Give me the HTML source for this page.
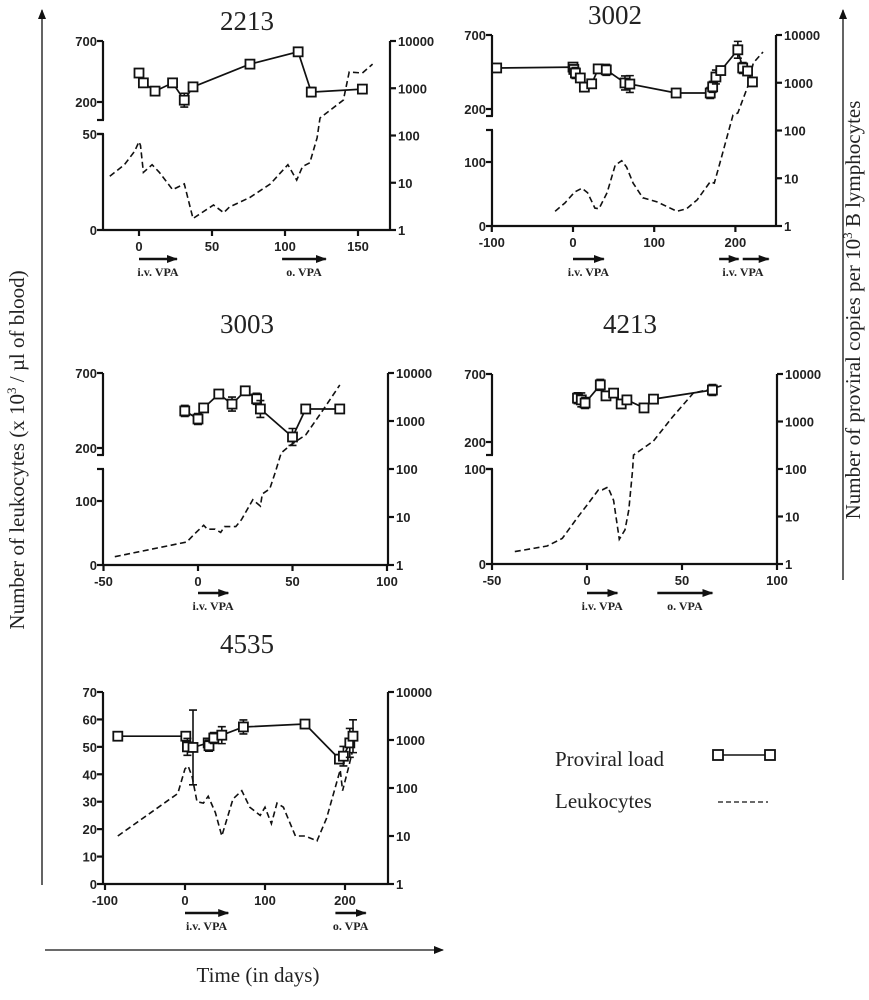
<!DOCTYPE html>
<html><head><meta charset="utf-8"><style>
html,body{margin:0;padding:0;background:#fff;}
svg{display:block;}
.tk{font-family:"Liberation Sans",sans-serif;font-weight:bold;font-size:13px;fill:#222;}
.ttl{font-family:"Liberation Serif",serif;font-size:27px;fill:#222;}
.drug{font-family:"Liberation Serif",serif;font-weight:bold;font-size:12px;fill:#222;}
.big{font-family:"Liberation Serif",serif;font-size:21px;fill:#222;}
</style></head><body>
<svg id="chart" width="869" height="1000" viewBox="0 0 869 1000">
<defs>
<marker id="ah" markerUnits="userSpaceOnUse" markerWidth="10" markerHeight="10" refX="9" refY="5" orient="auto"><path d="M0,1 L10,5 L0,9 z" fill="#111"/></marker>
<marker id="ah2" markerUnits="userSpaceOnUse" markerWidth="11" markerHeight="10" refX="10" refY="5" orient="auto"><path d="M0,1 L11,5 L0,9 z" fill="#111"/></marker>
</defs>
<g id="panels"></g>
<g>
<line x1="42" y1="885" x2="42" y2="10" stroke="#111" stroke-width="1.3" marker-end="url(#ah)"/>
<text class="big" transform="translate(24,450) rotate(-90)" text-anchor="middle">Number of leukocytes (x 10<tspan font-size="13" dy="-8">3</tspan><tspan dy="8"> /  µl of blood)</tspan></text>
</g>
<g>
<line x1="45" y1="950" x2="443" y2="950" stroke="#111" stroke-width="1.3" marker-end="url(#ah)"/>
<text class="big" x="258" y="982" text-anchor="middle">Time (in days)</text>
</g>
<g>
<line x1="843" y1="580" x2="843" y2="10" stroke="#111" stroke-width="1.3" marker-end="url(#ah)"/>
<text class="big" transform="translate(860,310) rotate(-90)" text-anchor="middle">Number of proviral copies per 10<tspan font-size="13" dy="-8">3</tspan><tspan dy="8"> B lymphocytes</tspan></text>
</g>
<g>
<text class="big" x="555" y="766">Proviral load</text>
<line x1="718" y1="755" x2="770" y2="755" stroke="#111" stroke-width="1.5"/>
<rect x="713" y="750" width="10" height="10" fill="#fff" stroke="#111" stroke-width="1.8"/>
<rect x="765" y="750" width="10" height="10" fill="#fff" stroke="#111" stroke-width="1.8"/>
<text class="big" x="555" y="808">Leukocytes</text>
<line x1="718" y1="802" x2="768" y2="802" stroke="#111" stroke-width="1.2" stroke-dasharray="5,3"/>
</g>
</svg>
<script>
// ---- data ----
const p2213LoadDays=[0,3,11,23,31,37,76,109,118,153];
const p2213Load=[2100,1300,870,1300,560,1070,3240,5900,830,960];
const p2213LoadErr=[1.1,1,1,1,1.4,1.2,1,1,1.25,1.1];
const p2213LeukoDays=[-20,-10,-3,0,1,3,9,14,23,31,37,51,58,62,76,90,102,108,112,117,122,124,140,144,153,160];
const p2213Leuko=[28,34,41,46,44,30,34,30,21,24,6,13,9,12,17,24,34,26,33,35,48,69,216,446,438,511];

const p3002LoadDays=[-94,0,1,3,9,14,23,31,41,64,70,127,169,172,176,182,203,209,215,221];
const p3002Load=[2040,2130,1900,1600,1260,810,950,1950,1860,990,940,610,610,820,1320,1800,4900,2040,1760,1040];
const p3002LoadErr=[1,1.1,1.2,1.3,1.2,1.1,1.2,1.1,1.3,1.4,1.5,1.1,1.3,1.3,1.4,1.2,1.5,1.3,1.1,1.1];
const p3002LeukoDays=[-22,-10,2,11,18,27,32,42,52,60,66,74,86,103,128,140,153,169,174,183,192,197,203,215,222,234];
const p3002Leuko=[23,36,53,59,52,28,27,52,95,102,92,67,44,38,23,27,41,69,67,108,150,159,173,349,511,585];

const p3003LoadDays=[-7,0,3,11,18,25,31,33,50,57,75];
const p3003Load=[1620,1100,1870,3650,2250,4250,2900,1780,465,1780,1780];
const p3003LoadErr=[1.3,1.3,1,1.1,1.4,1.2,1.3,1.5,1.5,1,1];
const p3003LeukoDays=[-44,-6,-1,3,5,9,12,14,20,23,29,33,34,38,41,44,49,57,65,75];
const p3003Leuko=[13,36,51,62,56,56,51,60,60,71,102,92,111,119,146,167,220,287,433,620];

const p4213LoadDays=[-5,-3,-1,7,10,14,18,21,30,35,66];
const p4213Load=[3100,2850,2450,5900,3460,3960,2340,2850,1930,2960,4600];
const p4213LoadErr=[1.3,1.4,1.3,1.3,1.2,1.1,1.2,1.2,1.2,1,1.3];
const p4213LeukoDays=[-38,-21,-13,-5,0,6,8,11,14,17,20,22,24,24.5,35,45,56,63,72];
const p4213Leuko=[13,19,27,49,62,78,78,81,67,26,36,57,99,104,207,384,560,582,618];

const p4535LoadDays=[-84,1,3,10,29,30,36,46,73,150,193,198,206,210];
const p4535Load=[1200,1200,720,700,870,760,1100,1260,1870,2150,400,460,870,1200];
const p4535LoadErr=[1,1.1,1.5,6,1.2,1.3,1.3,1.5,1.4,1.2,1.1,1.6,2,2.2];
const p4535LeukoDays=[-84,-9,0,4,9,15,23,29,38,46,60,71,81,94,100,108,115,123,138,150,165,177,194,197,204,209];
const p4535Leuko=[17.5,33,42,43,39,30,29.5,32,26,17.5,31,34,28,25,28,22,29.5,28,17.5,17.5,15.7,24,41.6,34,42,48];

// ---- geometry ----
const panels=[
 {id:'2213',loadD:p2213LoadDays,load:p2213Load,err:p2213LoadErr,leD:p2213LeukoDays,le:p2213Leuko,
  xl:103,xr:390,x0:139,k:1.46,xt:[0,50,100,150],yTop:41,yB:230,split:true,y200:102,yUpEnd:120,yLowTop:134,lowMax:50,lowTicks:[0,50],
  title:[247,30],drugs:[[0,26,'i.v. VPA'],[98,128,'o. VPA']],dy:259},
 {id:'3002',loadD:p3002LoadDays,load:p3002Load,err:p3002LoadErr,leD:p3002LeukoDays,le:p3002Leuko,
  xl:492,xr:776,x0:573,k:0.812,xt:[-100,0,100,200],yTop:35,yB:226,split:true,y200:109,yUpEnd:116,yLowTop:130,lowMax:150,lowTicks:[0,100],
  title:[615,24],drugs:[[0,38,'i.v. VPA'],[180,204,''],[209,241,'']],dlab:[[743,'i.v. VPA']],dy:259},
 {id:'3003',loadD:p3003LoadDays,load:p3003Load,err:p3003LoadErr,leD:p3003LeukoDays,le:p3003Leuko,
  xl:103,xr:388,x0:198,k:1.89,xt:[-50,0,50,100],yTop:373,yB:565,split:true,y200:448,yUpEnd:455,yLowTop:469,lowMax:150,lowTicks:[0,100],
  title:[247,333],drugs:[[0,16,'i.v. VPA']],dy:593},
 {id:'4213',loadD:p4213LoadDays,load:p4213Load,err:p4213LoadErr,leD:p4213LeukoDays,le:p4213Leuko,
  xl:492,xr:777,x0:587,k:1.9,xt:[-50,0,50,100],yTop:374,yB:564,split:true,y200:442,yUpEnd:455,yLowTop:469,lowMax:100,lowTicks:[0,100],
  title:[630,333],drugs:[[0,16,'i.v. VPA'],[37,66,'o. VPA']],dy:593},
 {id:'4535',loadD:p4535LoadDays,load:p4535Load,err:p4535LoadErr,leD:p4535LeukoDays,le:p4535Leuko,
  xl:103,xr:388,x0:185,k:0.8,xt:[-100,0,100,200],yTop:692,yB:884,split:false,linMax:70,lowTicks:[0,10,20,30,40,50,60,70],
  title:[247,653],drugs:[[0,54,'i.v. VPA'],[188,226,'o. VPA']],dy:913}
];
const NS='http://www.w3.org/2000/svg';
function mk(tag,attrs,parent){const e=document.createElementNS(NS,tag);for(const a in attrs)e.setAttribute(a,attrs[a]);parent.appendChild(e);return e;}
const root=document.getElementById('panels');
panels.forEach(p=>{
 const g=mk('g',{},root);
 
 
 const X=d=>p.x0+d*p.k;
 const dec=(p.yB-p.yTop)/4;
 const YL=v=>p.yB-Math.log10(v)*dec;
 let YK;
 if(p.split){const lowK=(p.yB-p.yLowTop)/p.lowMax, upK=(p.y200-p.yTop)/500;
  YK=v=>v<=p.lowMax? p.yB-v*lowK : p.y200-(v-200)*upK;}
 else{const kk=(p.yB-p.yTop)/p.linMax; YK=v=>p.yB-v*kk;}
 const t=mk('text',{class:'ttl',x:p.title[0],y:p.title[1],'text-anchor':'middle'},g);t.textContent=p.id;
 
 
 const st={stroke:'#111','stroke-width':2.2,fill:'none'};
 const la=mk('g',{},g);
 
 
 const lt=(y,lab)=>{mk('line',{x1:p.xl-6,y1:y,x2:p.xl,y2:y,...st},la);if(lab!==null){const e=mk('text',{class:'tk',x:p.xl-6,y:y+5,'text-anchor':'end'},la);e.textContent=lab;}};
 if(p.split){
  mk('line',{x1:p.xl,y1:p.yTop,x2:p.xl,y2:p.yUpEnd,...st},la);
  mk('line',{x1:p.xl-6,y1:p.yUpEnd,x2:p.xl+1,y2:p.yUpEnd,...st},la);
  lt(p.yTop,'700');lt(p.y200,'200');
  mk('line',{x1:p.xl,y1:p.yLowTop,x2:p.xl,y2:p.yB,...st},la);
  mk('line',{x1:p.xl-6,y1:p.yLowTop,x2:p.xl+1,y2:p.yLowTop,...st},la);
  p.lowTicks.forEach(v=>lt(YK(v),String(v)));
 } else {
  mk('line',{x1:p.xl,y1:p.yTop,x2:p.xl,y2:p.yB,...st},la);
  p.lowTicks.forEach(v=>lt(YK(v),String(v)));
 }
 const ra=mk('g',{},g);
 
 
 mk('line',{x1:p.xr,y1:p.yTop,x2:p.xr,y2:p.yB,...st},ra);
 [1,10,100,1000,10000].forEach(v=>{const y=YL(v);mk('line',{x1:p.xr,y1:y,x2:p.xr+6,y2:y,...st},ra);const e=mk('text',{class:'tk',x:p.xr+8,y:y+5},ra);e.textContent=String(v);});
 const xa=mk('g',{},g);
 
 
 mk('line',{x1:p.xl,y1:p.yB,x2:p.xr,y2:p.yB,...st},xa);
 p.xt.forEach(v=>{const x=X(v);mk('line',{x1:x,y1:p.yB,x2:x,y2:p.yB+6,...st},xa);const e=mk('text',{class:'tk',x:x,y:p.yB+21,'text-anchor':'middle'},xa);e.textContent=String(v);});
 const ld=p.leD.map((d,i)=>(i?'L':'M')+X(d).toFixed(1)+','+YK(p.le[i]).toFixed(1)).join(' ');
 const lp=mk('path',{d:ld,fill:'none',stroke:'#111','stroke-width':1.6,'stroke-dasharray':'6,3.5'},g);
 
 
 const pd=p.loadD.map((d,i)=>(i?'L':'M')+X(d).toFixed(1)+','+YL(p.load[i]).toFixed(1)).join(' ');
 const pp=mk('path',{d:pd,fill:'none',stroke:'#111','stroke-width':1.7},g);
 
 
 p.loadD.forEach((d,i)=>{
  const x=X(d),y=YL(p.load[i]),f=p.err[i];
  if(f>1){const y1=YL(p.load[i]*f),y2=YL(p.load[i]/f);
   const eb=mk('path',{d:`M${x},${y1}L${x},${y2}M${x-4},${y1}L${x+4},${y1}M${x-4},${y2}L${x+4},${y2}`,stroke:'#111','stroke-width':1.6,fill:'none'},g);
   
   }
  const r=mk('rect',{x:x-4.5,y:y-4.5,width:9,height:9,fill:'#fff',stroke:'#111','stroke-width':1.8},g);
  
  
 });
 p.drugs.forEach(dr=>{
  const x1=X(dr[0]),x2=X(dr[1]);
  const a=mk('line',{x1:x1,y1:p.dy,x2:x2,y2:p.dy,stroke:'#111','stroke-width':2.6,'marker-end':'url(#ah2)'},g);
  
  
  if(dr[2]){const e=mk('text',{class:'drug',x:(x1+x2)/2,y:p.dy+17,'text-anchor':'middle'},g);e.textContent=dr[2];
   
   }
 });
 (p.dlab||[]).forEach(dl=>{const e=mk('text',{class:'drug',x:dl[0],y:p.dy+17,'text-anchor':'middle'},g);e.textContent=dl[1];
  
  });
});
</script>
</body></html>
